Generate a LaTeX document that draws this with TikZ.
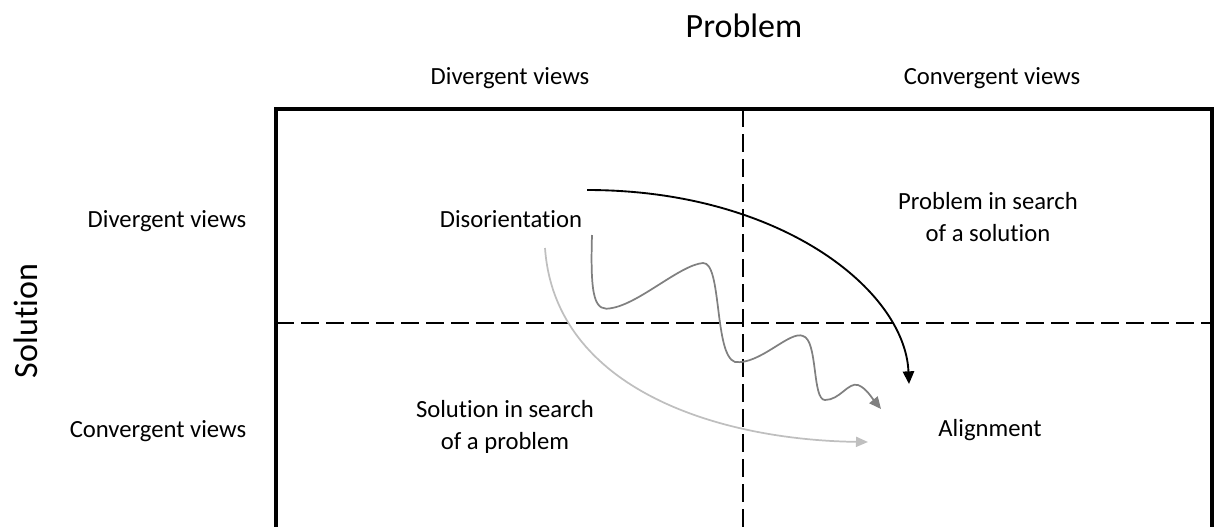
\documentclass[tikz,border=0pt]{standalone}
\usepackage{fontspec}
\setmainfont{Carlito}[Ligatures=NoCommon]
\usetikzlibrary{arrows.meta}
\begin{document}
\begin{tikzpicture}[x=0.75pt,y=-0.75pt,
  lbl/.style={font=\fontsize{18.5}{24}\selectfont, inner sep=0pt, anchor=base, align=center},
  big/.style={font=\fontsize{25.5}{30}\selectfont, inner sep=0pt, anchor=base},
  frame/.style={line width=2.3pt, black},
  divider/.style={line width=1.9pt, black, dash pattern=on 13.5pt off 5.25pt},
  blackarrow/.style={line width=1.4pt, black, -{Triangle[length=9.5pt,width=8.5pt]}},
  wavyarrow/.style={line width=1.3pt, black!50, -{Triangle[length=9pt,width=8pt]}},
  lightarrow/.style={line width=1.3pt, black!25, -{Triangle[length=9pt,width=7.5pt]}}]
\useasboundingbox (0,0) rectangle (1214,526);
\clip (0,0) rectangle (1214,526);

% frame and dividers
\coordinate (tl) at (276,109);
\coordinate (tr) at (1212,109);
\coordinate (bl) at (276,540);
\coordinate (br) at (1212,540);
\coordinate (vt) at (743,109);
\coordinate (vb) at (743,540);
\coordinate (hl) at (276,323);
\coordinate (hr) at (1212,323);
\draw[frame] (bl) -- (tl) -- (tr) -- (br);
\draw[divider] (vt) -- (vb);
\draw[divider] (hl) -- (hr);

% titles
\node[big] (problem) at (744,37) {Problem};
\node[big, rotate=90] (solution) at (37,321) {Solution};
\node[lbl] (pdiv) at (510,84) {Divergent views};
\node[lbl] (pconv) at (992,84) {Convergent views};
\node[lbl] (sdiv) at (167,227) {Divergent views};
\node[lbl] (sconv) at (158,437) {Convergent views};

% quadrant labels
\node[lbl] (disor) at (511,227) {Disorientation};
\node[lbl] (pins) at (988,241) {Problem in search\\of a solution};
\node[lbl] (sinp) at (505,449) {Solution in search\\of a problem};
\node[lbl] (align) at (990,436) {Alignment};

% arrow anchor points
\coordinate (bs) at (587,190);
\coordinate (be) at (909,384);
\coordinate (ws) at (592,235);
\coordinate (we) at (881,409);
\coordinate (ls) at (545,248);
\coordinate (le) at (868,442);

\draw[blackarrow] (bs) .. controls (780,190) and (905,290) .. (be);
\draw[lightarrow] (ls) .. controls (555,390) and (720,440) .. (le);
\draw[wavyarrow] (ws)
  .. controls (590,300) and (595,312) .. (612,308)
  .. controls (640,303) and (680,265) .. (703,263)
  .. controls (722,262) and (714,355) .. (735,362)
  .. controls (760,365) and (790,330) .. (803,336)
  .. controls (818,340) and (812,400) .. (825,400)
  .. controls (840,400) and (848,382) .. (858,385)
  .. controls (866,388) and (872,398) .. (we);
\end{tikzpicture}
\end{document}
